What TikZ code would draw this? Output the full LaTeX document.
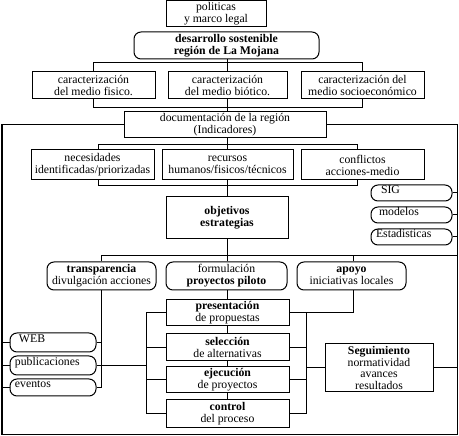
\documentclass[tikz,border=0pt]{standalone}
\usepackage{fontspec}
\setmainfont{Liberation Serif}
\newcommand\fsz{\fontsize{11.75}{12}\selectfont}
\begin{document}
\begin{tikzpicture}[x=1pt,y=-1pt,
  every node/.style={font=\fsz, inner sep=0pt, align=center},
  box/.style={draw, line width=1pt},
  rbox/.style={draw, line width=1pt, rounded corners=7pt},
  lbox/.style={rbox, align=left, text width=#1, inner xsep=5pt, text height=6.5pt, text depth=5.5pt},
  ln/.style={line width=1pt}]
\useasboundingbox (0,0) rectangle (459,436);

% top part
\node[box, minimum width=100pt, minimum height=26pt] (pol) at (216,14) {politicas\\y marco legal};
\node[rbox, minimum width=185pt, minimum height=27pt] (des) at (226.5,45.5) {\textbf{desarrollo sostenible}\\\textbf{región de La Mojana}};
\node[box, minimum width=123pt, minimum height=27pt] (car1) at (93.5,85.5) {caracterización\\del medio fisico.};
\node[box, minimum width=119pt, minimum height=27pt] (car2) at (227.5,85.5) {caracterización\\del medio biótico.};
\node[box, minimum width=123pt, minimum height=27pt] (car3) at (362.5,85.5) {caracterización del\\medio socioeconómico};
\node[box, minimum width=202pt, minimum height=26pt] (doc) at (225,125) {documentación de la región\\(Indicadores)};

\node[box, minimum width=123pt, minimum height=30pt] (nec) at (92.5,165) {necesidades\\identificadas/priorizadas};
\node[box, minimum width=131pt, minimum height=30pt] (rec) at (227.5,165) {recursos\\humanos/fisicos/técnicos};
\node[box, minimum width=123pt, minimum height=30pt] (con) at (362.5,165) {conflictos\\acciones-medio};
\node[box, minimum width=122pt, minimum height=42pt] (obj) at (227,218) {\textbf{objetivos}\\\textbf{estrategias}};

\node[lbox=71pt, minimum width=81pt, minimum height=16pt] (sig) at (411.5,193) {\hspace*{5pt}SIG};
\node[lbox=71pt, minimum width=81pt, minimum height=16pt] (mod) at (411.5,215) {\hspace*{3pt}modelos};
\node[lbox=71pt, minimum width=81pt, minimum height=16pt] (est) at (411.5,237) {Estadisticas};

\node[rbox, minimum width=109pt, minimum height=28pt] (tra) at (101.5,276) {\textbf{transparencia}\\divulgación acciones};
\node[rbox, minimum width=121pt, minimum height=28pt] (for) at (226.5,276) {formulación\\\textbf{proyectos piloto}};
\node[rbox, minimum width=109pt, minimum height=28pt] (apo) at (351.5,276) {\textbf{apoyo}\\iniciativas locales};

\node[lbox=76pt, minimum width=86pt, minimum height=19pt] (web) at (53,342.5) {\hspace*{4pt}WEB};
\node[lbox=76pt, minimum width=86pt, minimum height=19pt] (pub) at (53,365.5) {publicaciones};
\node[lbox=76pt, minimum width=86pt, minimum height=17pt] (eve) at (53,387.5) {eventos};

\node[box, minimum width=123pt, minimum height=26pt] (pre) at (227.5,313) {\textbf{presentación}\\de propuestas};
\node[box, minimum width=123pt, minimum height=27pt] (sel) at (227.5,347.5) {\textbf{selección}\\de alternativas};
\node[box, minimum width=123pt, minimum height=26pt] (eje) at (227.5,380) {\textbf{ejecución}\\de proyectos};
\node[box, minimum width=123pt, minimum height=27pt] (ctl) at (227.5,413.5) {\textbf{control}\\del proceso};
\node[box, minimum width=108pt, minimum height=48pt, font=\fontsize{11.75}{11.5}\selectfont] (seg) at (379,368) {\textbf{Seguimiento}\\normatividad\\avances\\resultados};

% frame corners
\coordinate (fbl) at (2,434);
\coordinate (fbr) at (457,434);

% connectors
\draw[ln] (car2.north |- des.south) -- (car2.north);
\draw[ln] (car1.north) -- ++(0,-9) -| (car3.north);
\draw[ln] (car1.south) -- ++(0,8) -| (car3.south);
\draw[ln] (car2.south) -- (car2.south |- doc.north);
\draw[ln] (doc.west) -| (fbl) -- (fbr) |- (doc.east);

\draw[ln] (rec.north |- doc.south) -- (rec.north);
\draw[ln] ([xshift=5.5pt]nec.north) -- ++(0,-5) -| ([xshift=-5.5pt]con.north);
\draw[ln] ([xshift=5.5pt]nec.south) -- ++(0,5) -| ([xshift=-5.5pt]con.south);
\draw[ln] (rec.south) -- (rec.south |- obj.north);

\draw[ln] (sig.east) -- (sig.east -| fbr);
\draw[ln] (mod.east) -- (mod.east -| fbr);
\draw[ln] (est.east) -- (est.east -| fbr);

\draw[ln] (tra.north) -- ++(0,-6) coordinate (h1) -- (h1 -| fbr);
\draw[ln] (rec.south |- obj.south) -- (rec.south |- h1);
\draw[ln] (pre.north |- h1) -- (pre.north |- for.north);
\draw[ln] ([xshift=1.5pt]apo.north) -- ([xshift=1.5pt]apo.north |- h1);

\draw[ln] (tra.south) -- (tra.south |- eve.east) -- (eve.east);
\draw[ln] (web.east) -- (web.east -| tra.south);
\draw[ln] (web.west) -- (web.west -| fbl);
\draw[ln] (pub.west) -- (pub.west -| fbl);
\draw[ln] (eve.west) -- (eve.west -| fbl);

\draw[ln] (pre.west) -- ++(-19,0) coordinate (lb) |- (ctl.west);
\draw[ln] (sel.west) -- ++(-19,0);
\draw[ln] (eje.west) -- ++(-19,0);
\draw[ln] (pub.east) -- (pub.east -| lb);

\draw[ln] (pre.east) -- ++(17,0) coordinate (rb) |- (ctl.east);
\draw[ln] (sel.east) -- ++(17,0);
\draw[ln] (eje.east) -- ++(17,0);
\draw[ln] ([xshift=1.5pt]apo.south) -- ([xshift=1.5pt]apo.south |- pre.east) -- (pre.east);
\draw[ln] (seg.west) -- (seg.west -| rb);
\draw[ln] (seg.east) -- (seg.east -| fbr);

\draw[ln] (pre.north |- for.south) -- (pre.north);
\draw[ln] (pre.south) -- (sel.north);
\draw[ln] (sel.south) -- (eje.north);
\draw[ln] (eje.south) -- (ctl.north);
\end{tikzpicture}
\end{document}
